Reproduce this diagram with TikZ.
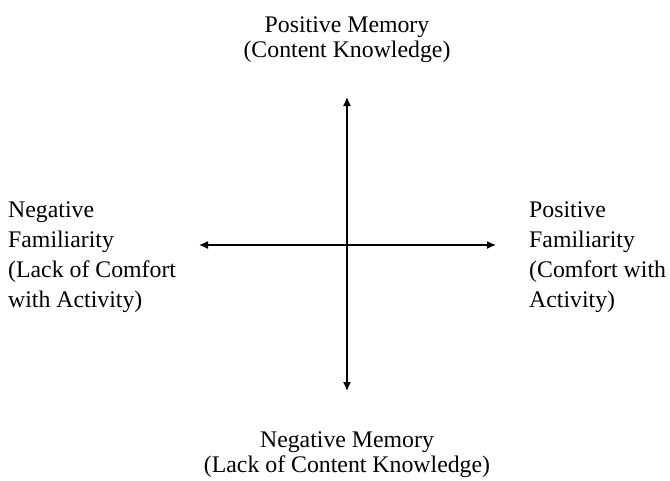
\documentclass[tikz,border=0pt]{standalone}
\usepackage{fontspec}
\setmainfont{Liberation Serif}
\usetikzlibrary{arrows.meta,positioning}

\begin{document}
\begin{tikzpicture}[
        x=1pt, y=-1pt,
        label/.style={inner sep=0pt, font=\fontsize{23.8}{25}\selectfont},
        sidelabel/.style={inner sep=0pt, align=left, font=\fontsize{23.8}{30}\selectfont},
        arrow/.style={{Latex[length=9pt,width=8pt]}-{Latex[length=9pt,width=8pt]}, line width=1.4pt}
      ]
        \useasboundingbox (0,0) rectangle (670,480);
        \coordinate (w) at (199,245);
        \coordinate (e) at (496,245);
        \coordinate (n) at (347,97);
        \coordinate (s) at (347,391);
        \node[label, align=center, anchor=base] (top) at (347,57) {Positive Memory\\(Content Knowledge)};
        \node[label, align=center, anchor=base] (bottom) at (347,472) {Negative Memory\\(Lack of Content Knowledge)};
        \node[sidelabel, anchor=north west] (left) at (8,202) {Negative\\Familiarity\\(Lack of Comfort\\with Activity)};
        \node[sidelabel, anchor=north west] (right) at (529,202) {Positive\\Familiarity\\(Comfort with\\Activity)};
        \draw[arrow] (w) -- (e);
        \draw[arrow] (s) -- (n);
      \end{tikzpicture}
\end{document}
